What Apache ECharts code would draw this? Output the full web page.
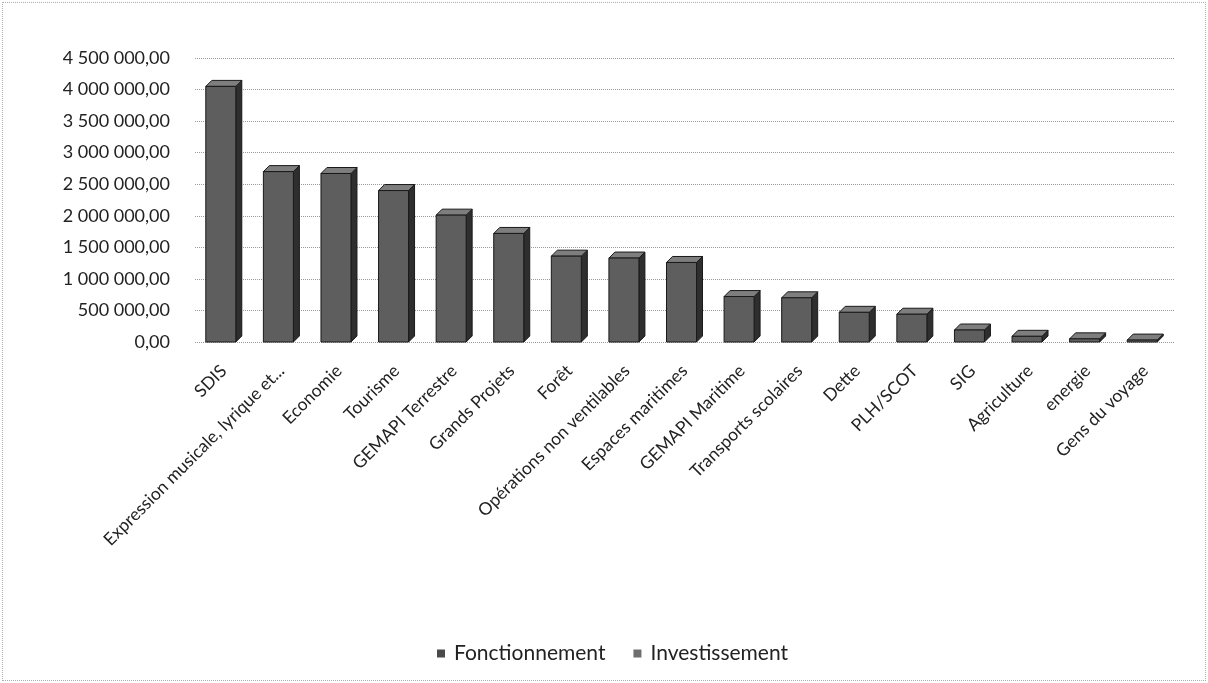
<!DOCTYPE html>
<html>
<head>
<meta charset="utf-8">
<script src="https://cdn.jsdelivr.net/npm/echarts@6/dist/echarts.min.js"></script>
<style>
  html, body { margin: 0; padding: 0; background: #fff; }
  #chart {
    position: absolute; left: 2px; top: 2px;
    width: 1202px; height: 677px;
    border: 1px dotted #b0b0b0;
  }
</style>
</head>
<body>
<div id="chart"></div>
<script>
// catégories (axe X)
var categories = ['SDIS', 'Expression musicale, lyrique et...', 'Economie', 'Tourisme',
  'GEMAPI Terrestre', 'Grands Projets', 'Forêt', 'Opérations non ventilables',
  'Espaces maritimes', 'GEMAPI Maritime', 'Transports scolaires', 'Dette',
  'PLH/SCOT', 'SIG', 'Agriculture', 'energie', 'Gens du voyage'];

// valeurs
var fonctionnement = [4050000, 2700000, 2670000, 2400000, 2010000, 1720000, 1360000, 1330000,
  1260000, 720000, 700000, 470000, 440000, 190000, 90000, 50000, 30000];
var investissement = [0, 0, 0, 0, 0, 0, 0, 0, 0, 0, 0, 0, 0, 0, 0, 0, 0];

var yMin = 0, yMax = 4500000, yStep = 500000;

function fmt(v) {
  var parts = v.toFixed(2).split('.');
  return parts[0].replace(/\B(?=(\d{3})+(?!\d))/g, ' ') + ',' + parts[1];
}

// barre "3D" : face avant, dessus, côté
function renderBar(colors, stackOn) {
  return function (params, api) {
    var idx = api.value(0);
    var v = api.value(1);
    var below = stackOn ? stackOn[idx] : 0;
    if (stackOn && !v) return null;
    var base = api.coord([idx, below]);
    var top = api.coord([idx, below + v]);
    var w = 30, d = 6;
    var x = base[0] - w / 2 - d / 2;
    var yb = base[1], yt = top[1];
    var edge = { stroke: '#1a1a1a', lineWidth: 1 };
    return {
      type: 'group',
      children: [
        { type: 'polygon', shape: { points: [[x + w, yt], [x + w + d, yt - d], [x + w + d, yb - d], [x + w, yb]] },
          style: Object.assign({ fill: colors[2] }, edge) },
        { type: 'polygon', shape: { points: [[x, yt], [x + d, yt - d], [x + w + d, yt - d], [x + w, yt]] },
          style: Object.assign({ fill: colors[1] }, edge) },
        { type: 'rect', shape: { x: x, y: yt, width: w, height: yb - yt },
          style: Object.assign({ fill: colors[0] }, edge) }
      ]
    };
  };
}

var myChart = echarts.init(document.getElementById('chart'));
var option = {
  animation: false,
  textStyle: { fontFamily: 'Lato, "Open Sans", sans-serif' },
  grid: { left: 192, right: 31, top: 55, bottom: 338 },
  legend: {
    data: ['Fonctionnement', 'Investissement'],
    top: 635,
    left: 429,
    icon: 'rect',
    itemWidth: 8,
    itemHeight: 8,
    itemGap: 28,
    textStyle: { fontSize: 21, color: '#222', padding: [0, 0, 0, 4] }
  },
  xAxis: {
    type: 'category',
    data: categories,
    axisLine: { show: false },
    axisTick: { show: false },
    axisLabel: {
      interval: 0, rotate: 45, margin: 26,
      fontSize: 17.5, color: '#222'
    }
  },
  yAxis: {
    type: 'value',
    min: yMin, max: yMax, interval: yStep,
    axisLine: { show: false },
    axisTick: { show: false },
    axisLabel: { formatter: fmt, fontSize: 18, color: '#222', margin: 25 },
    splitLine: { lineStyle: { type: 'dotted', color: '#9a9a9a', width: 1 } }
  },
  series: [
    {
      name: 'Fonctionnement',
      type: 'custom',
      itemStyle: { color: '#4a4a4a' },
      renderItem: renderBar(['#5e5e5e', '#7e7e7e', '#2e2e2e']),
      encode: { x: 0, y: 1 },
      data: fonctionnement.map(function (v, i) { return [i, v]; })
    },
    {
      name: 'Investissement',
      type: 'custom',
      itemStyle: { color: '#6e6e6e' },
      renderItem: renderBar(['#888888', '#a5a5a5', '#555555'], fonctionnement),
      encode: { x: 0, y: 1 },
      data: investissement.map(function (v, i) { return [i, v]; })
    }
  ]
};
myChart.setOption(option);
</script>
</body>
</html>
